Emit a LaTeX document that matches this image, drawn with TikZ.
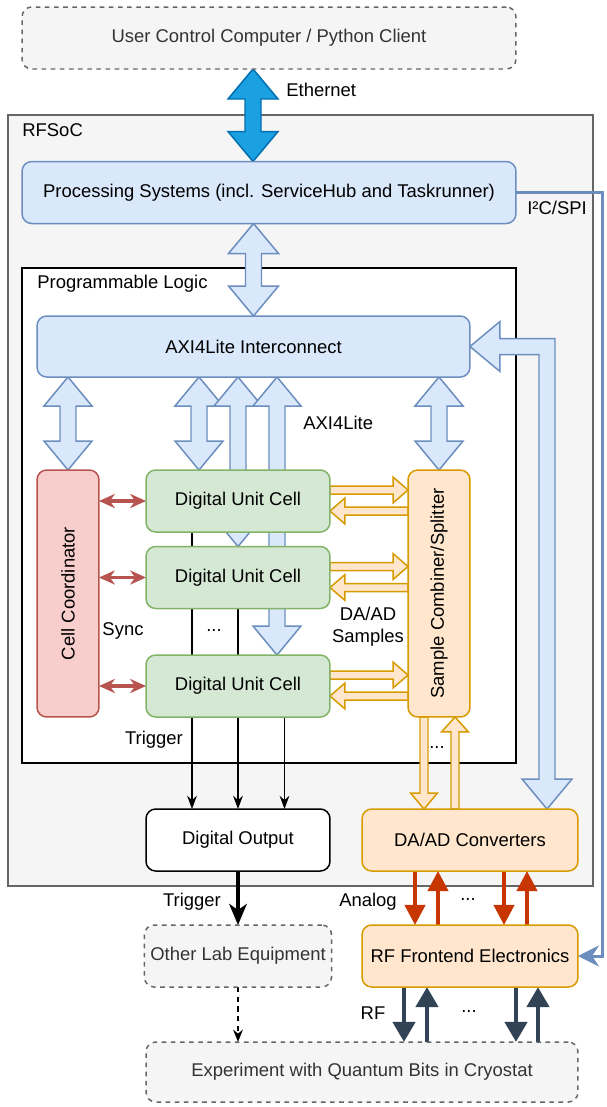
\documentclass[tikz,border=0pt]{standalone}
\usepackage{fontspec}
\setmainfont{Liberation Sans}
\usetikzlibrary{arrows.meta}
\pgfdeclarelayer{back}
\pgfdeclarelayer{mid}
\pgfsetlayers{back,mid,main}
\definecolor{grayfill}{HTML}{F5F5F5}
\definecolor{grayline}{HTML}{666666}
\definecolor{graytext}{HTML}{333333}
\definecolor{bluefill}{HTML}{DAE8FC}
\definecolor{blueline}{HTML}{6C8EBF}
\definecolor{greenfill}{HTML}{D5E8D4}
\definecolor{greenline}{HTML}{82B366}
\definecolor{redfill}{HTML}{F8CECC}
\definecolor{redline}{HTML}{B85450}
\definecolor{orangefill}{HTML}{FFE6CC}
\definecolor{orangeline}{HTML}{D79B00}
\definecolor{ethfill}{HTML}{1BA1E2}
\definecolor{ethline}{HTML}{006EAF}
\definecolor{analogc}{HTML}{C73500}
\definecolor{rfc}{HTML}{314354}
% block arrows: style, tail/top, tip/bottom, half head, half shaft, head length
\newcommand{\vdblock}[6][]{%
  \draw[#1] (#2) -- ([shift={(#4,#6)}]#2) -- ([shift={(#5,#6)}]#2)
    -- ([shift={(#5,-#6)}]#3) -- ([shift={(#4,-#6)}]#3) -- (#3)
    -- ([shift={(-#4,-#6)}]#3) -- ([shift={(-#5,-#6)}]#3)
    -- ([shift={(-#5,#6)}]#2) -- ([shift={(-#4,#6)}]#2) -- cycle;}
\newcommand{\vblock}[6][]{%
  \draw[#1] ([shift={(-#5,0)}]#2) -- ([shift={(-#5,{0-(#6)})}]#3)
    -- ([shift={(-#4,{0-(#6)})}]#3) -- (#3) -- ([shift={(#4,{0-(#6)})}]#3)
    -- ([shift={(#5,{0-(#6)})}]#3) -- ([shift={(#5,0)}]#2) -- cycle;}
\newcommand{\hblock}[6][]{%
  \draw[#1] ([shift={(0,-#5)}]#2) -- ([shift={({0-(#6)},-#5)}]#3)
    -- ([shift={({0-(#6)},-#4)}]#3) -- (#3) -- ([shift={({0-(#6)},#4)}]#3)
    -- ([shift={({0-(#6)},#5)}]#3) -- ([shift={(0,#5)}]#2) -- cycle;}
\begin{document}
\begin{tikzpicture}[x=0.02cm,y=-0.02cm,
    line join = round,>=Stealth,
    font=\fontsize{10.5}{12.6}\selectfont,
    box/.style={rectangle,rounded corners=5.5pt,line width=0.85pt,outer sep=0pt,minimum height=1.24cm},
    boxgray/.style={box,draw=grayline,fill=grayfill,text=graytext,dash pattern=on 2.6pt off 2.6pt},
    boxblue/.style={box,draw=blueline,fill=bluefill},
    boxgreen/.style={box,draw=greenline,fill=greenfill,minimum width=3.68cm},
    boxred/.style={box,draw=redline,fill=redfill},
    boxorange/.style={box,draw=orangeline,fill=orangefill},
    boxwhite/.style={box,draw=black,fill=white},
    frame/.style={rectangle,line width=0.85pt,outer sep=0pt},
    lbl/.style={inner sep=0pt},
    arrblue/.style={draw=blueline,fill=bluefill,line width=0.85pt},
    arreth/.style={draw=ethline,fill=ethfill,line width=0.85pt},
    arrorange/.style={draw=orangeline,fill=orangefill,line width=0.85pt},
    sync/.style={draw=redline,line width=2pt,{Stealth[length=9pt,width=8pt,inset=2.8pt]}-{Stealth[length=9pt,width=8pt,inset=2.8pt]}},
    trig/.style={line width=0.85pt,-{Stealth[length=7.5pt,width=5.5pt,inset=2.4pt]}},
    trigbig/.style={line width=2pt,-{Stealth[length=12pt,width=10pt,inset=3.5pt]}},
    dashedarr/.style={line width=0.85pt,dash pattern=on 3pt off 2.5pt,-{Stealth[length=7pt,width=5.5pt,inset=2.2pt]}},
    analog/.style={draw=analogc,line width=2.3pt,-{Triangle[length=11.5pt,width=11.5pt]}},
    rf/.style={draw=rfc,line width=2.8pt,-{Triangle[length=11.5pt,width=12.5pt]}},
    i2c/.style={draw=blueline,line width=1.7pt,-{Stealth[length=12pt,width=12pt,inset=4pt]}}]
  \useasboundingbox (0,0) rectangle (607,1107);
  \begin{pgfonlayer}{back}
    \node at (300.5,500.5) (rfsoc) [frame,draw=grayline,fill=grayfill,minimum width=11.7cm,minimum height=15.42cm] {};
    \node at (269,515.5) (pl) [frame,draw=black,fill=white,minimum width=9.88cm,minimum height=9.9cm] {};
  \end{pgfonlayer}
  \node at (269,38) (user) [boxgray,minimum width=9.88cm] {User Control Computer / Python Client};
  \node at (269,192.5) (ps) [boxblue,minimum width=9.88cm] {Processing Systems (incl. ServiceHub and Taskrunner)};
  \node at (253.5,346.5) (axi) [boxblue,minimum width=8.66cm,minimum height=1.22cm] {AXI4Lite Interconnect};
  \node at (68,593.5) (cc) [boxred,minimum width=1.24cm,minimum height=4.94cm,label={[rotate=90]center:Cell Coordinator}] {};
  \node at (238,501) (cell1) [boxgreen] {Digital Unit Cell};
  \node at (238,577.5) (cell2) [boxgreen] {Digital Unit Cell};
  \node at (238,686) (cell3) [boxgreen] {Digital Unit Cell};
  \node at (439,593.5) (comb) [boxorange,minimum width=1.24cm,minimum height=4.94cm,label={[rotate=90]center:Sample Combiner/Splitter}] {};
  \node at (238,840) (dout) [boxwhite,minimum width=3.68cm] {Digital Output};
  \node at (470,840) (daad) [boxorange,minimum width=4.32cm] {DA/AD Converters};
  \node at (238,956) (lab) [boxgray,minimum width=3.7cm] {Other Lab Equipment};
  \node at (470,956) (rffe) [boxorange,minimum width=4.32cm] {RF Frontend Electronics};
  \node at (362,1072) (exp) [boxgray,minimum width=8.64cm,minimum height=1.2cm] {Experiment with Quantum Bits in Cryostat};
  % labels
  \node at (286,90) (lbleth) [lbl,anchor=west] {Ethernet};
  \node at (22,130) (lblrfsoc) [lbl,anchor=west] {RFSoC};
  \node at (527,208) (lbli2c) [lbl,anchor=west] {I²C/SPI};
  \node at (37,284) (lblpl) [lbl,anchor=west] {Programmable Logic};
  \node at (303,423) (lblaxi) [lbl,anchor=west] {AXI4Lite};
  \node at (123,631) (lblsync) [lbl] {Sync};
  \node at (214,631) (dotsa) [lbl] {...};
  \node at (368,627) (lblsamp) [lbl,align=center] {DA/AD\\Samples};
  \node at (154,740) (lbltriga) [lbl] {Trigger};
  \node at (437,748) (dotsb) [lbl] {...};
  \node at (192,902) (lbltrigb) [lbl] {Trigger};
  \node at (368,902) (lblana) [lbl] {Analog};
  \node at (468,900) (dotsc) [lbl] {...};
  \node at (373,1013) (lblrf) [lbl] {RF};
  \node at (469,1011) (dotsd) [lbl] {...};
  \begin{pgfonlayer}{mid}
    % Ethernet
    \coordinate (eth1) at ([shift={(-16,0)}]user.south);
    \coordinate (eth2) at (eth1 |- ps.north);
    \vdblock[arreth]{eth1}{eth2}{25}{8}{30}
    % PS to interconnect
    \coordinate (psa) at (ps.south -| axi.north);
    \vdblock[arrblue]{psa}{axi.north}{25}{8}{30}
    % interconnect to the cells
    \coordinate (cca) at (axi.south -| cc.north);
    \vdblock[arrblue]{cca}{cc.north}{24}{8}{29}
    \coordinate (d1b) at ([shift={(-39,0)}]cell1.north);
    \coordinate (d1a) at (axi.south -| d1b);
    \vdblock[arrblue]{d1a}{d1b}{24}{8}{29}
    \coordinate (d2a) at (axi.south -| cell2.north);
    \vdblock[arrblue]{d2a}{cell2.north}{24}{8}{29}
    \coordinate (d3b) at ([shift={(39,0)}]cell3.north);
    \coordinate (d3a) at (axi.south -| d3b);
    \vdblock[arrblue]{d3a}{d3b}{24}{8}{29}
    \coordinate (sca) at (axi.south -| comb.north);
    \vdblock[arrblue]{sca}{comb.north}{24}{8}{29}
    % interconnect to converters
    \coordinate (pb) at ([shift={(77,0)}]daad.north);
    \coordinate (pc) at (pb |- axi.east);
    \draw[arrblue] (axi.east) -- ([shift={(30,-25)}]axi.east) -- ([shift={(30,-8)}]axi.east)
      -- ([shift={(8,-8)}]pc) -- ([shift={(8,-30)}]pb) -- ([shift={(25,-30)}]pb) -- (pb)
      -- ([shift={(-25,-30)}]pb) -- ([shift={(-8,-30)}]pb) -- ([shift={(-8,8)}]pc)
      -- ([shift={(30,8)}]axi.east) -- ([shift={(30,25)}]axi.east) -- cycle;
    % sync and samples
    \foreach \i in {1,2,3}{
      \draw[sync] (cc.east |- cell\i.west) -- (cell\i.west);
      \coordinate (ro\i) at ([shift={(0,-11)}]cell\i.east);
      \coordinate (ri\i) at (ro\i -| comb.west);
      \coordinate (lo\i) at ([shift={(0,10)}]cell\i.east);
      \coordinate (li\i) at (lo\i -| comb.west);
      \hblock[arrorange]{ro\i}{ri\i}{13}{4}{15}
      \hblock[arrorange]{li\i}{lo\i}{13}{4}{-15}
    }
    % combiner to converters
    \coordinate (cbd) at ([shift={(-15,0)}]comb.south);
    \coordinate (cvd) at (cbd |- daad.north);
    \coordinate (cbu) at ([shift={(16,0)}]comb.south);
    \coordinate (cvu) at (cbu |- daad.north);
    \vblock[arrorange]{cbd}{cvd}{13.5}{4}{16}
    \vblock[arrorange]{cvu}{cbu}{13.5}{4}{-15}
    % trigger lines
    \coordinate (tr1) at ([shift={(-46,0)}]cell1.south);
    \coordinate (tr2) at (cell2.south);
    \coordinate (tr3) at ([shift={(46.5,0)}]cell3.south);
    \foreach \i in {1,2,3}
      \draw[trig] (tr\i) -- (tr\i |- dout.north);
    \draw[trigbig] (dout) -- (lab);
    \draw[dashedarr] (lab.south) -- (lab.south |- exp.north);
    % analog and rf
    \foreach \dx in {-55,34}
      \draw[analog] ([shift={(\dx,0)}]daad.south) -- ([shift={(\dx,0)}]rffe.north);
    \foreach \dx in {-32,57}
      \draw[analog] ([shift={(\dx,0)}]rffe.north) -- ([shift={(\dx,0)}]daad.south);
    \foreach \dx in {-66,46}{
      \coordinate (rfa) at ([shift={(\dx,0)}]rffe.south);
      \draw[rf] (rfa) -- (rfa |- exp.north);
    }
    \foreach \dx in {-43,68}{
      \coordinate (rfb) at ([shift={(\dx,0)}]rffe.south);
      \draw[rf] (rfb |- exp.north) -- (rfb);
    }
    % I2C/SPI
    \coordinate (i2c) at ([shift={(87,0)}]ps.east);
    \draw[i2c] (ps.east) -- (i2c) |- (rffe.east);
  \end{pgfonlayer}
\end{tikzpicture}
\end{document}
